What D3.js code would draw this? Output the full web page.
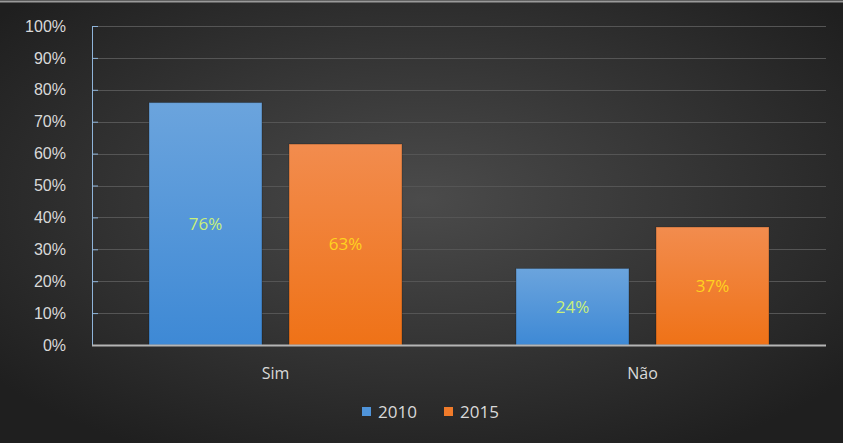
<!doctype html>
<html>
<head>
<style>
  body { margin: 0; background: #222; }
  svg { display: block; font-family: "Open Sans", "DejaVu Sans", sans-serif; }
  .tick text { fill: #d9d9d9; font-size: 16px; }
  .grid line { stroke: #555; stroke-width: 1; }
</style>
<script src="https://d3js.org/d3.v7.min.js"></script>
</head>
<body>
<svg width="843" height="443"></svg>
<script>
var categories = ["Sim", "Não"];
var series = ["2010", "2015"];
var values2010 = [0.76, 0.24];
var values2015 = [0.63, 0.37];
var yTicks = [0, 0.1, 0.2, 0.3, 0.4, 0.5, 0.6, 0.7, 0.8, 0.9, 1.0];

var svg = d3.select("svg"),
    W = 843, H = 443,
    plotLeft = 92, plotRight = 826, plotTop = 26, plotBottom = 345;

var defs = svg.append("defs");
var bg = defs.append("radialGradient").attr("id", "bg")
    .attr("cx", "50%").attr("cy", "45%").attr("r", "65%");
bg.append("stop").attr("offset", "0%").attr("stop-color", "#4b4b4b");
bg.append("stop").attr("offset", "100%").attr("stop-color", "#1f1f1f");

function barGrad(id, c1, c2) {
  var g = defs.append("linearGradient").attr("id", id)
      .attr("x1", 0).attr("y1", 0).attr("x2", 0).attr("y2", 1);
  g.append("stop").attr("offset", "0%").attr("stop-color", c1);
  g.append("stop").attr("offset", "100%").attr("stop-color", c2);
}
barGrad("g2010", "#6ba4dd", "#3e89d5");
barGrad("g2015", "#f28c4e", "#ef7217");

svg.append("rect").attr("width", W).attr("height", H).attr("fill", "url(#bg)");
svg.append("line").attr("x1", 0).attr("x2", W).attr("y1", 1.5).attr("y2", 1.5)
   .attr("stroke", "#9a9a9a").attr("stroke-width", 2);

var x0 = d3.scaleBand().domain(categories).range([plotLeft, plotRight]).paddingInner(0).paddingOuter(0);
var x1 = d3.scaleBand().domain(series).range([0, x0.bandwidth()]).paddingInner(0.193).paddingOuter(0.407);
var y = d3.scaleLinear().domain([0, 1]).range([plotBottom, plotTop]);

// gridlines
svg.append("g").attr("class", "grid")
   .selectAll("line").data(yTicks.slice(1)).enter().append("line")
   .attr("x1", plotLeft).attr("x2", plotRight)
   .attr("y1", function(d) { return Math.round(y(d)) + 0.5; })
   .attr("y2", function(d) { return Math.round(y(d)) + 0.5; });

// y axis
var yAxis = svg.append("g").attr("transform", "translate(" + plotLeft + ",0)")
   .call(d3.axisLeft(y).tickValues(yTicks).tickFormat(d3.format(".0%")).tickSize(-6).tickPadding(26));
yAxis.select(".domain").attr("stroke", "#8fb4d9");
yAxis.selectAll(".tick line").attr("stroke", "#8fb4d9");

var data = categories.map(function(c, i) {
  return { cat: c, vals: [values2010[i], values2015[i]] };
});
var fills = ["url(#g2010)", "url(#g2015)"];
var labelColors = ["#c9f07a", "#ffd21f"];

var groups = svg.selectAll(".grp").data(data).enter().append("g")
   .attr("transform", function(d) { return "translate(" + x0(d.cat) + ",0)"; });

groups.selectAll("rect").data(function(d) { return d.vals; }).enter().append("rect")
   .attr("x", function(d, i) { return x1(series[i]); })
   .attr("y", function(d) { return y(d); })
   .attr("width", x1.bandwidth())
   .attr("height", function(d) { return plotBottom - y(d); })
   .attr("fill", function(d, i) { return fills[i]; })
   .attr("stroke", "rgba(0,0,0,0.25)").attr("stroke-width", 1);

groups.selectAll(".lbl").data(function(d) { return d.vals; }).enter().append("text")
   .attr("x", function(d, i) { return x1(series[i]) + x1.bandwidth() / 2; })
   .attr("y", function(d) { return (y(d) + plotBottom) / 2; })
   .attr("dy", "0.35em")
   .attr("text-anchor", "middle")
   .attr("font-size", "17px")
   .attr("fill", function(d, i) { return labelColors[i]; })
   .text(function(d) { return Math.round(d * 100) + "%"; });

// baseline
svg.append("line").attr("x1", plotLeft).attr("x2", plotRight)
   .attr("y1", plotBottom + 0.5).attr("y2", plotBottom + 0.5)
   .attr("stroke", "#b5b5b5").attr("stroke-width", 2);

// category labels
svg.selectAll(".cat").data(categories).enter().append("text")
   .attr("x", function(d) { return x0(d) + x0.bandwidth() / 2; })
   .attr("y", 379)
   .attr("text-anchor", "middle")
   .attr("font-size", "16px")
   .attr("fill", "#d9d9d9")
   .text(function(d) { return d; });

// legend
var legend = svg.append("g");
var legX = [362, 444];
series.forEach(function(s, i) {
  legend.append("rect").attr("x", legX[i]).attr("y", 407).attr("width", 9).attr("height", 9)
     .attr("fill", i === 0 ? "#4f94da" : "#f07b2a");
  legend.append("text").attr("x", legX[i] + 16).attr("y", 418)
     .attr("font-size", "17px").attr("fill", "#d9d9d9").text(s);
});
</script>
</body>
</html>
